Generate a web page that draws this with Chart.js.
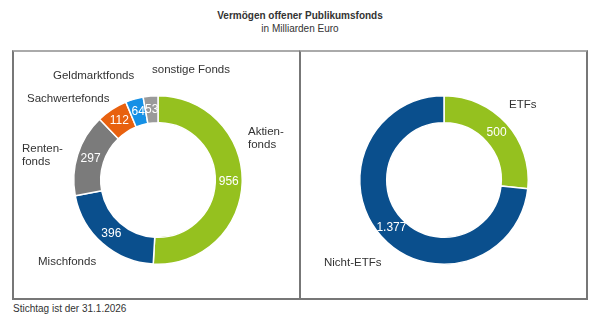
<!DOCTYPE html>
<html>
<head>
<meta charset="utf-8">
<script src="https://cdn.jsdelivr.net/npm/chart.js@4.4.1/dist/chart.umd.min.js"></script>
<style>
    body { margin: 0; width: 600px; height: 325px; background: #fff; position: relative; overflow: hidden;
           font-family: "Liberation Sans", Arial, sans-serif; color: #333; }
    .title { position: absolute; left: 0; width: 600px; text-align: center; }
    #t1 { top: 10px; font-size: 10px; font-weight: bold; }
    #t2 { top: 23px; font-size: 10px; }
    .box { position: absolute; top: 50px; height: 250px; box-sizing: border-box;
           border: 2px solid #777; border-top-color: #aaa; }
    #boxL { left: 12px; width: 289px; }
    #boxR { left: 299px; width: 289px; }
    canvas { position: absolute; top: 50px; }
    #footer { position: absolute; left: 13px; top: 303px; font-size: 10px; }
</style>
</head>
<body>
<div class="title" id="t1">Vermögen offener Publikumsfonds</div>
<div class="title" id="t2">in Milliarden Euro</div>
<div class="box" id="boxL"></div>
<div class="box" id="boxR"></div>
<canvas id="fundsChart" width="287" height="250" style="left:12px"></canvas>
<canvas id="etfChart" width="287" height="250" style="left:299px"></canvas>
<div id="footer">Stichtag ist der 31.1.2026</div>

<script>
// Fondsarten (Mrd. Euro)
const fundLabels = ['Aktien-\nfonds', 'Mischfonds', 'Renten-\nfonds', 'Sachwertefonds', 'Geldmarktfonds', 'sonstige Fonds'];
const fundValues = [956, 396, 297, 112, 64, 53];

// ETFs vs. Nicht-ETFs (Mrd. Euro)
const etfLabels = ['ETFs', 'Nicht-ETFs'];
const etfValues = [500, 1377];

const fundColors = ['#95c11f', '#0a4f8d', '#7b7b7b', '#e8610f', '#1590e5', '#9a9a9a'];
const etfColors = ['#95c11f', '#0a4f8d'];

// where the category names sit, offset from the donut centre (left edge, middle of first line)
const fundNameOffsets = [[90, -48], [-120, 82], [-136, -31], [-131, -81], [-105, -104], [-6, -110]];
const etfNameOffsets = [[65, -75], [-120, 83]];

const fmt = v => String(v).replace(/\B(?=(\d{3})+(?!\d))/g, '.');

// draws the value inside each slice and the category name outside
const sliceLabels = {
    id: 'sliceLabels',
    afterDatasetsDraw(chart, args, opts) {
        const ctx = chart.ctx;
        const meta = chart.getDatasetMeta(0);
        const data = chart.data.datasets[0].data;
        meta.data.forEach((arc, i) => {
            const p = arc.getProps(['x', 'y', 'startAngle', 'endAngle', 'innerRadius', 'outerRadius'], true);
            const mid = (p.startAngle + p.endAngle) / 2;
            const r = (p.innerRadius + p.outerRadius) / 2;
            ctx.save();
            ctx.font = '12px "Liberation Sans", Arial, sans-serif';
            ctx.fillStyle = '#fff';
            ctx.textAlign = 'center';
            ctx.textBaseline = 'middle';
            ctx.fillText(fmt(data[i]), p.x + Math.cos(mid) * r, p.y + Math.sin(mid) * r);

            const [dx, dy] = opts.offsets[i];
            ctx.font = '11.5px "Liberation Sans", Arial, sans-serif';
            ctx.fillStyle = '#333';
            ctx.textAlign = 'left';
            chart.data.labels[i].split('\n').forEach((line, k) => {
                ctx.fillText(line, p.x + dx, p.y + dy + k * 13);
            });
            ctx.restore();
        });
    }
};

function makeDonut(id, labels, values, colors, offsets, padding) {
    const ctx = document.getElementById(id).getContext('2d');
    return new Chart(ctx, {
        type: 'doughnut',
        data: {
            labels: labels,
            datasets: [{
                data: values,
                backgroundColor: colors,
                borderColor: '#fff',
                borderWidth: 1.5
            }]
        },
        options: {
            responsive: false,
            animation: false,
            devicePixelRatio: 1,
            cutout: '68%',
            layout: { padding: padding },
            plugins: {
                legend: { display: false },
                tooltip: { enabled: false },
                sliceLabels: { offsets: offsets }
            }
        },
        plugins: [sliceLabels]
    });
}

makeDonut('fundsChart', fundLabels, fundValues, fundColors, fundNameOffsets,
    { left: 61, right: 56, top: 45, bottom: 35 });
makeDonut('etfChart', etfLabels, etfValues, etfColors, etfNameOffsets,
    { left: 60, right: 57, top: 45, bottom: 35 });
</script>
</body>
</html>
